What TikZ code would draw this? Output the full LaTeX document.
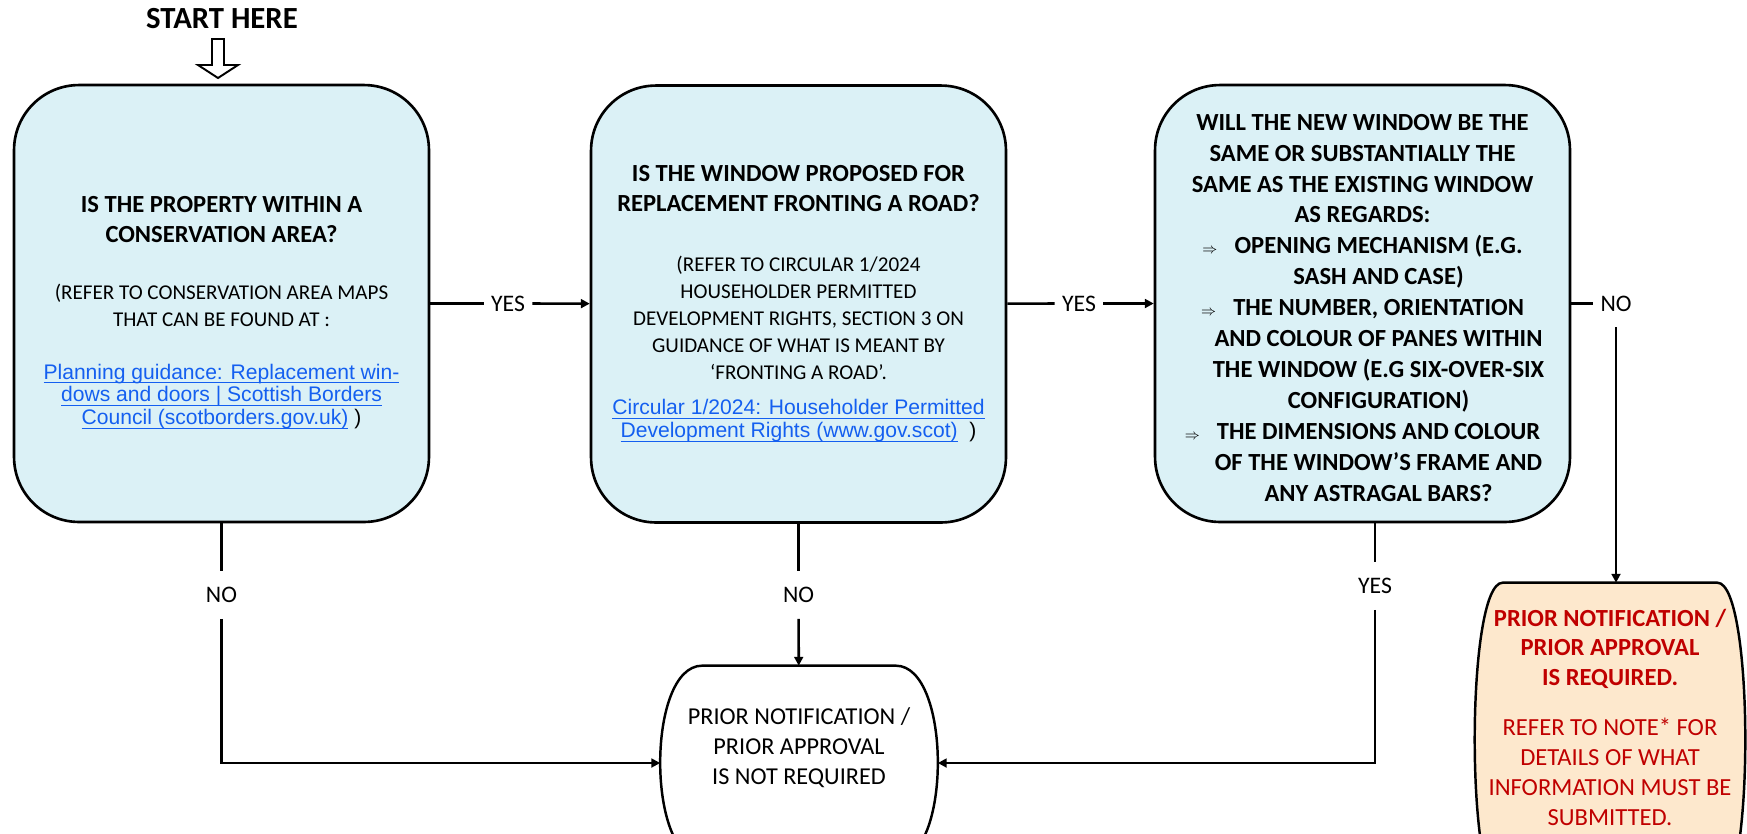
\documentclass[tikz,border=0pt]{standalone}
\usepackage{fontspec}
\setmainfont{Carlito}
\newfontfamily\arialfont{Liberation Sans}
\usepackage{xcolor}
\usetikzlibrary{calc,positioning,arrows.meta,backgrounds}

\definecolor{qblue}{RGB}{219,241,246}
\definecolor{reqfill}{RGB}{253,232,205}
\definecolor{reqred}{RGB}{192,0,0}
\definecolor{linkblue}{RGB}{20,95,240}

\newcommand{\qbold}{\bfseries\fontsize{14}{17}\selectfont}
\newcommand{\qnote}{\fontsize{12}{15.3}\selectfont}
\newcommand{\qlink}{\arialfont\fontsize{12}{13}\selectfont}
\newcommand{\lnk}[1]{\textcolor{linkblue}{\setbox0\hbox{#1}\rlap{\rule[-2.3pt]{\wd0}{0.7pt}}\box0}}
\newcommand{\itemarrow}{{\fontsize{8}{8}\selectfont$\Rightarrow$}\hspace{0.7em}}
\newcommand{\contind}{\hspace*{1.3em}}

\begin{document}
\begin{tikzpicture}[x=0.02cm, y=-0.02cm, >={Triangle[length=5pt,width=5pt]},
    qbox/.style={draw, fill=qblue, line width=1.5pt, rounded corners=1.3cm,
        minimum width=8.3cm, minimum height=8.74cm, text width=7.8cm, align=flush center},
    endbox/.style={draw=none, align=flush center, inner sep=0pt},
    endline/.style={line width=1.4pt},
    conn/.style={line width=1.5pt},
    lbl/.style={font=\fontsize{13.5}{16}\selectfont, inner xsep=4pt, inner ysep=9pt}]

    \useasboundingbox (0,0) rectangle (1747,833);

    % start
    \node[font=\bfseries\fontsize{17.5}{20}\selectfont] (start) at (222,19) {START HERE};
    \coordinate (tip) at (218,78);
    \draw[line width=1.1pt, fill=white] (tip) -- ++(-20,-13) -- ++(14,0) -- ++(0,-26)
        -- ++(12,0) -- ++(0,26) -- ++(14,0) -- cycle;

    % questions
    \node[qbox] (q1) at (221.5,303.5) {%
        {\qbold \rule{0pt}{20pt}IS THE PROPERTY WITHIN A\\CONSERVATION AREA?\par}\vspace{17pt}
        {\qnote (REFER TO CONSERVATION AREA MAPS\\THAT CAN BE FOUND AT :\par}\vspace{17pt}
        {\qlink \lnk{Planning guidance: Replacement win-}\\\lnk{dows and doors | Scottish Borders}\\\lnk{Council (scotborders.gov.uk)} )\par}};
    \node[qbox] (q2) at (798.5,304) {%
        {\qbold IS THE WINDOW PROPOSED FOR\\REPLACEMENT FRONTING A ROAD?\par}\vspace{18.7pt}
        {\qnote (REFER TO CIRCULAR 1/2024\\HOUSEHOLDER PERMITTED\\DEVELOPMENT RIGHTS, SECTION 3 ON\\GUIDANCE OF WHAT IS MEANT BY\\`FRONTING A ROAD'.\par}\vspace{7.4pt}
        {\qlink \lnk{Circular 1/2024: Householder Permitted}\\\lnk{Development Rights (www.gov.scot)}\ \ )\par}};
    \node[qbox] (q3) at (1362.5,303.5) {%
        {\bfseries\fontsize{14}{17.6}\selectfont \rule{0pt}{14pt}WILL THE NEW WINDOW BE THE\\SAME OR SUBSTANTIALLY THE\\SAME AS THE EXISTING WINDOW\\AS REGARDS:\\
        \itemarrow OPENING MECHANISM (E.G.\\\contind SASH AND CASE)\\
        \itemarrow THE NUMBER, ORIENTATION\\\contind AND COLOUR OF PANES WITHIN\\\contind THE WINDOW (E.G SIX-OVER-SIX\\\contind CONFIGURATION)\\
        \itemarrow THE DIMENSIONS AND COLOUR\\\contind OF THE WINDOW'S FRAME AND\\\contind ANY ASTRAGAL BARS?\par}};

    % outcomes (node = text block, outline hangs below the page edge)
    \node[endbox, minimum width=5.54cm, minimum height=3.28cm, text width=5cm,
        font=\fontsize{13.8}{17}\selectfont] (notreq) at (799,748)
        {PRIOR NOTIFICATION /\\PRIOR APPROVAL\\IS NOT REQUIRED};
    \node[endbox, minimum width=5.4cm, minimum height=5.36cm, text width=5.3cm, text=reqred] (req) at (1610,717)
        {{\bfseries\fontsize{14}{17}\selectfont PRIOR NOTIFICATION /\\PRIOR APPROVAL\\IS REQUIRED.\par}\vspace{11.3pt}
        {\fontsize{14}{17}\selectfont REFER TO NOTE* FOR\\DETAILS OF WHAT\\INFORMATION MUST BE\\SUBMITTED.\par}};

    \begin{scope}[on background layer]
        \draw[endline, fill=white] ($(notreq.north west)+(42,0)$) -- ($(notreq.north east)+(-42,0)$)
            .. controls ($(notreq.north east)+(14,0)$) and ($(notreq.north east)+(14,194)$) .. ($(notreq.north east)+(-42,194)$)
            -- ($(notreq.north west)+(42,194)$)
            .. controls ($(notreq.north west)+(-14,194)$) and ($(notreq.north west)+(-14,0)$) .. cycle;
        \draw[endline, fill=reqfill] ($(req.north west)+(28,0)$) -- ($(req.north east)+(-28,0)$)
            .. controls ($(req.north east)+(9.3,0)$) and ($(req.north east)+(9.3,314)$) .. ($(req.north east)+(-28,314)$)
            -- ($(req.north west)+(28,314)$)
            .. controls ($(req.north west)+(-9.3,314)$) and ($(req.north west)+(-9.3,0)$) .. cycle;
    \end{scope}

    % labels
    \node[lbl] (yes1) at (508,303.5) {YES};
    \node[lbl] (yes2) at (1079,303.5) {YES};
    \node[lbl] (nolbl) at (1616,303.5) {NO};
    \node[lbl] (no1) at (221.5,595) {NO};
    \node[lbl] (no2) at (798.5,595) {NO};
    \node[lbl] (yes3) at (1375,586) {YES};

    % connectors
    \draw[conn] (q1) -- (yes1);
    \draw[conn,->] (yes1) -- (q2);
    \draw[conn] (q2) -- (yes2);
    \draw[conn,->] (yes2) -- (q3);
    \draw[conn] (q3) -- (nolbl);
    \draw[conn,->] (nolbl) -- (nolbl |- req.north);
    \draw[conn] (q1) -- (no1);
    \draw[conn,->] (no1) |- ($(notreq.west)+(0,15)$);
    \draw[conn] (q2) -- (no2);
    \draw[conn,->] (no2) -- (notreq);
    \draw[conn] (yes3 |- q3.south) -- (yes3);
    \draw[conn,->] (yes3) |- ($(notreq.east)+(0,15)$);
\end{tikzpicture}
\end{document}
